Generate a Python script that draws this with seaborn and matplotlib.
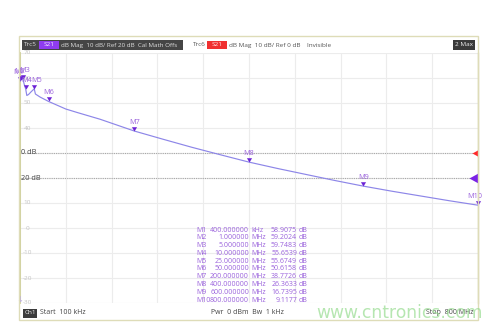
import matplotlib
matplotlib.use("Agg")
import matplotlib.pyplot as plt
import seaborn as sns
import pandas as pd
import numpy as np
from matplotlib.patches import Rectangle

sns.set_theme(style="white")
plt.rcParams['font.family'] = ['Open Sans', 'DejaVu Sans']

W, H = 500, 328

# S21 trace (Trc5), frequency in MHz, magnitude in dB
trace_freq_mhz = [0.1, 0.4, 1, 3, 5, 8, 10, 12, 15, 20, 25, 27, 35, 50, 80, 100,
                  140, 200, 250, 300, 350, 400, 450, 500, 550, 600, 650, 700, 750, 800]
trace_db = [58.6, 58.9, 59.2, 59.5, 59.75, 57.0, 55.65, 53.0, 53.4, 54.6, 55.67, 53.6,
            52.4, 50.62, 47.6, 46.2, 43.5, 38.77, 35.5, 32.3, 29.3, 26.36, 23.8, 21.4,
            19.0, 16.74, 14.7, 12.8, 10.9, 9.12]

# Markers
marker_names = ["M1", "M2", "M3", "M4", "M5", "M6", "M7", "M8", "M9", "M10"]
marker_freq_mhz = [0.4, 1, 5, 10, 25, 50, 200, 400, 600, 800]
marker_db = [58.9075, 59.2024, 59.7483, 55.6539, 55.6749, 50.6158, 38.7726,
             26.3633, 16.7395, 9.1177]

# Scale
y_tick_values = [70, 60, 50, 40, 10, 0, -10, -20, -30]
ref_levels = [30, 20]
ref_labels = ["0 dB", "20 dB"]
ref_colors = ["#ff2a2a", "#7b22e6"]
ref_sizes = [75, 170]

f_start, f_stop = 0.1, 800
db_min, db_max = -30, 70

trace_color = "#8d86e8"
marker_color = "#6c22d6"
marker_text = "#9a62dc"


def fx(x):
    return x / W


def fy(y):
    return 1 - y / H


fig = plt.figure(figsize=(W / 100, H / 100), dpi=100)
fig.patch.set_facecolor("white")

# outer instrument frame
fig.patches.append(Rectangle((fx(19), fy(320)), (478 - 19) / W, (320 - 36) / H,
                             transform=fig.transFigure, fill=False,
                             edgecolor="#dedcb8", lw=1.0, zorder=0))

ax = fig.add_axes([fx(20), fy(303), (478 - 20) / W, (303 - 53) / H])
ax.set_facecolor("white")
ax.set_xlim(f_start, f_stop)
ax.set_ylim(db_min, db_max)
ax.set_xticks(np.linspace(f_start, f_stop, 11))
ax.set_yticks(np.arange(db_min, db_max + 1, 10))
ax.grid(True, color="#ececec", lw=0.8)
ax.tick_params(left=False, bottom=False, labelleft=False, labelbottom=False)
for side in ["top", "bottom"]:
    ax.spines[side].set_visible(False)
ax.spines["left"].set_color("#cfcf96")
ax.spines["left"].set_linewidth(1.3)
ax.spines["right"].set_color("#d8d6b0")
ax.spines["right"].set_linewidth(1.0)

# reference level lines
for lvl, lab in zip(ref_levels, ref_labels):
    ax.axhline(lvl, color="#a8a8a8", lw=0.8, ls=(0, (1, 1)), zorder=1)
    ax.text(0.002, lvl, lab, transform=ax.get_yaxis_transform(), ha="left",
            va="center", fontsize=5.3, color="#444444")

# faint scale values inside the grid
for v in y_tick_values:
    ax.text(0.016, v, f"{v}", transform=ax.get_yaxis_transform(), ha="center",
            va="center", fontsize=4.6, color="#c4c4c4")

trace = pd.DataFrame({"freq": trace_freq_mhz, "db": trace_db})
sns.lineplot(data=trace, x="freq", y="db", ax=ax, color=trace_color, lw=0.85,
             zorder=3)
ax.set_xlabel("")
ax.set_ylabel("")

# reference level arrows on the right edge
ref_arrow = [(0, -0.55), (0, 0.55), (-1, 0)]
for lvl, col, s in zip(ref_levels, ref_colors, ref_sizes):
    ax.scatter([f_stop], [lvl], marker=ref_arrow, s=s, color=col, lw=0,
               clip_on=False, zorder=5)

# marker triangles with tip on the trace
mk = pd.DataFrame({"freq": marker_freq_mhz, "db": marker_db, "name": marker_names})
tri_down = [(-0.6, 1.0), (0.6, 1.0), (0, 0)]
sns.scatterplot(data=mk, x="freq", y="db", ax=ax, marker=tri_down, s=38,
                color=marker_color, linewidth=0, zorder=6, clip_on=False)
ax.set_xlabel("")
ax.set_ylabel("")
label_dx = {"M1": -1, "M2": -1, "M3": 1, "M4": 1, "M5": 2, "M10": -2}
for name, f, d in zip(marker_names, marker_freq_mhz, marker_db):
    ax.annotate(name, (f, d), xytext=(label_dx.get(name, 0), 6.2),
                textcoords="offset points", ha="center", va="center",
                fontsize=5.2, color=marker_text, zorder=7, annotation_clip=False)

ax.text(0.125, -28.5, "\u2193", transform=ax.transData,
        fontsize=6, color="#b7a6e0", ha="center", va="center",
        family=["DejaVu Sans"])

# marker readout table
row_y0, row_dy = 230, 7.78
for i, (name, f, d) in enumerate(zip(marker_names, marker_freq_mhz, marker_db)):
    y = fy(row_y0 + i * row_dy)
    if f < 1:
        val, unit = f"{f * 1000:.6f}", "kHz"
    else:
        val, unit = f"{f:.6f}", "MHz"
    kw = dict(fontsize=5.0, color=marker_text, va="center")
    fig.text(fx(196), y, name, ha="left", **kw)
    fig.text(fx(249), y, val, ha="right", **kw)
    fig.text(fx(251), y, unit, ha="left", **kw)
    fig.text(fx(297), y, f"{d:.4f}", ha="right", **kw)
    fig.text(fx(299), y, "dB", ha="left", **kw)


def box(x0, x1, y0, y1, color):
    fig.patches.append(Rectangle((fx(x0), fy(y1)), (x1 - x0) / W, (y1 - y0) / H,
                                 transform=fig.transFigure, facecolor=color,
                                 edgecolor="none", zorder=1))


# header line
box(22, 183, 40.5, 49.5, "#454545")
box(39, 59, 41, 49, "#8f3cf0")
fig.text(fx(24), fy(45), "Trc5", fontsize=4.6, color="#dddddd", va="center")
fig.text(fx(49), fy(45), "S21", fontsize=4.6, color="#f0e6ff", va="center", ha="center")
fig.text(fx(61), fy(45), "dB Mag  10 dB/ Ref 20 dB  Cal Math Offs", fontsize=4.5,
         color="#dddddd", va="center")
box(207, 227, 41, 49, "#f03030")
fig.text(fx(193), fy(45), "Trc6", fontsize=4.6, color="#555555", va="center")
fig.text(fx(217), fy(45), "S21", fontsize=4.6, color="#ffe6e6", va="center", ha="center")
fig.text(fx(229), fy(45), "dB Mag  10 dB/ Ref 0 dB    Invisible", fontsize=4.6,
         color="#555555", va="center")
box(453, 475, 40.5, 49.5, "#3a3a3a")
fig.text(fx(464), fy(45), "2 Max", fontsize=4.6, color="#eeeeee", va="center",
         ha="center")

# footer line
box(23, 37, 309, 317.5, "#3c3c3c")
fig.text(fx(30), fy(313), "Ch1", fontsize=4.6, color="#eeeeee", va="center", ha="center")
fig.text(fx(40), fy(313), "Start  100 kHz", fontsize=5.0, color="#444444", va="center")
fig.text(fx(247), fy(313), "Pwr  0 dBm  Bw  1 kHz", fontsize=5.0, color="#444444",
         va="center", ha="center")
fig.text(fx(473), fy(313), "Stop  800 MHz", fontsize=5.0, color="#444444",
         va="center", ha="right")
fig.text(fx(316), fy(313), "www.cntronics.com", fontsize=12.3, color="#97dc90",
         alpha=0.7, va="center", ha="left", family=["DejaVu Sans"])

fig.savefig("out.png", dpi=100, facecolor="white")
